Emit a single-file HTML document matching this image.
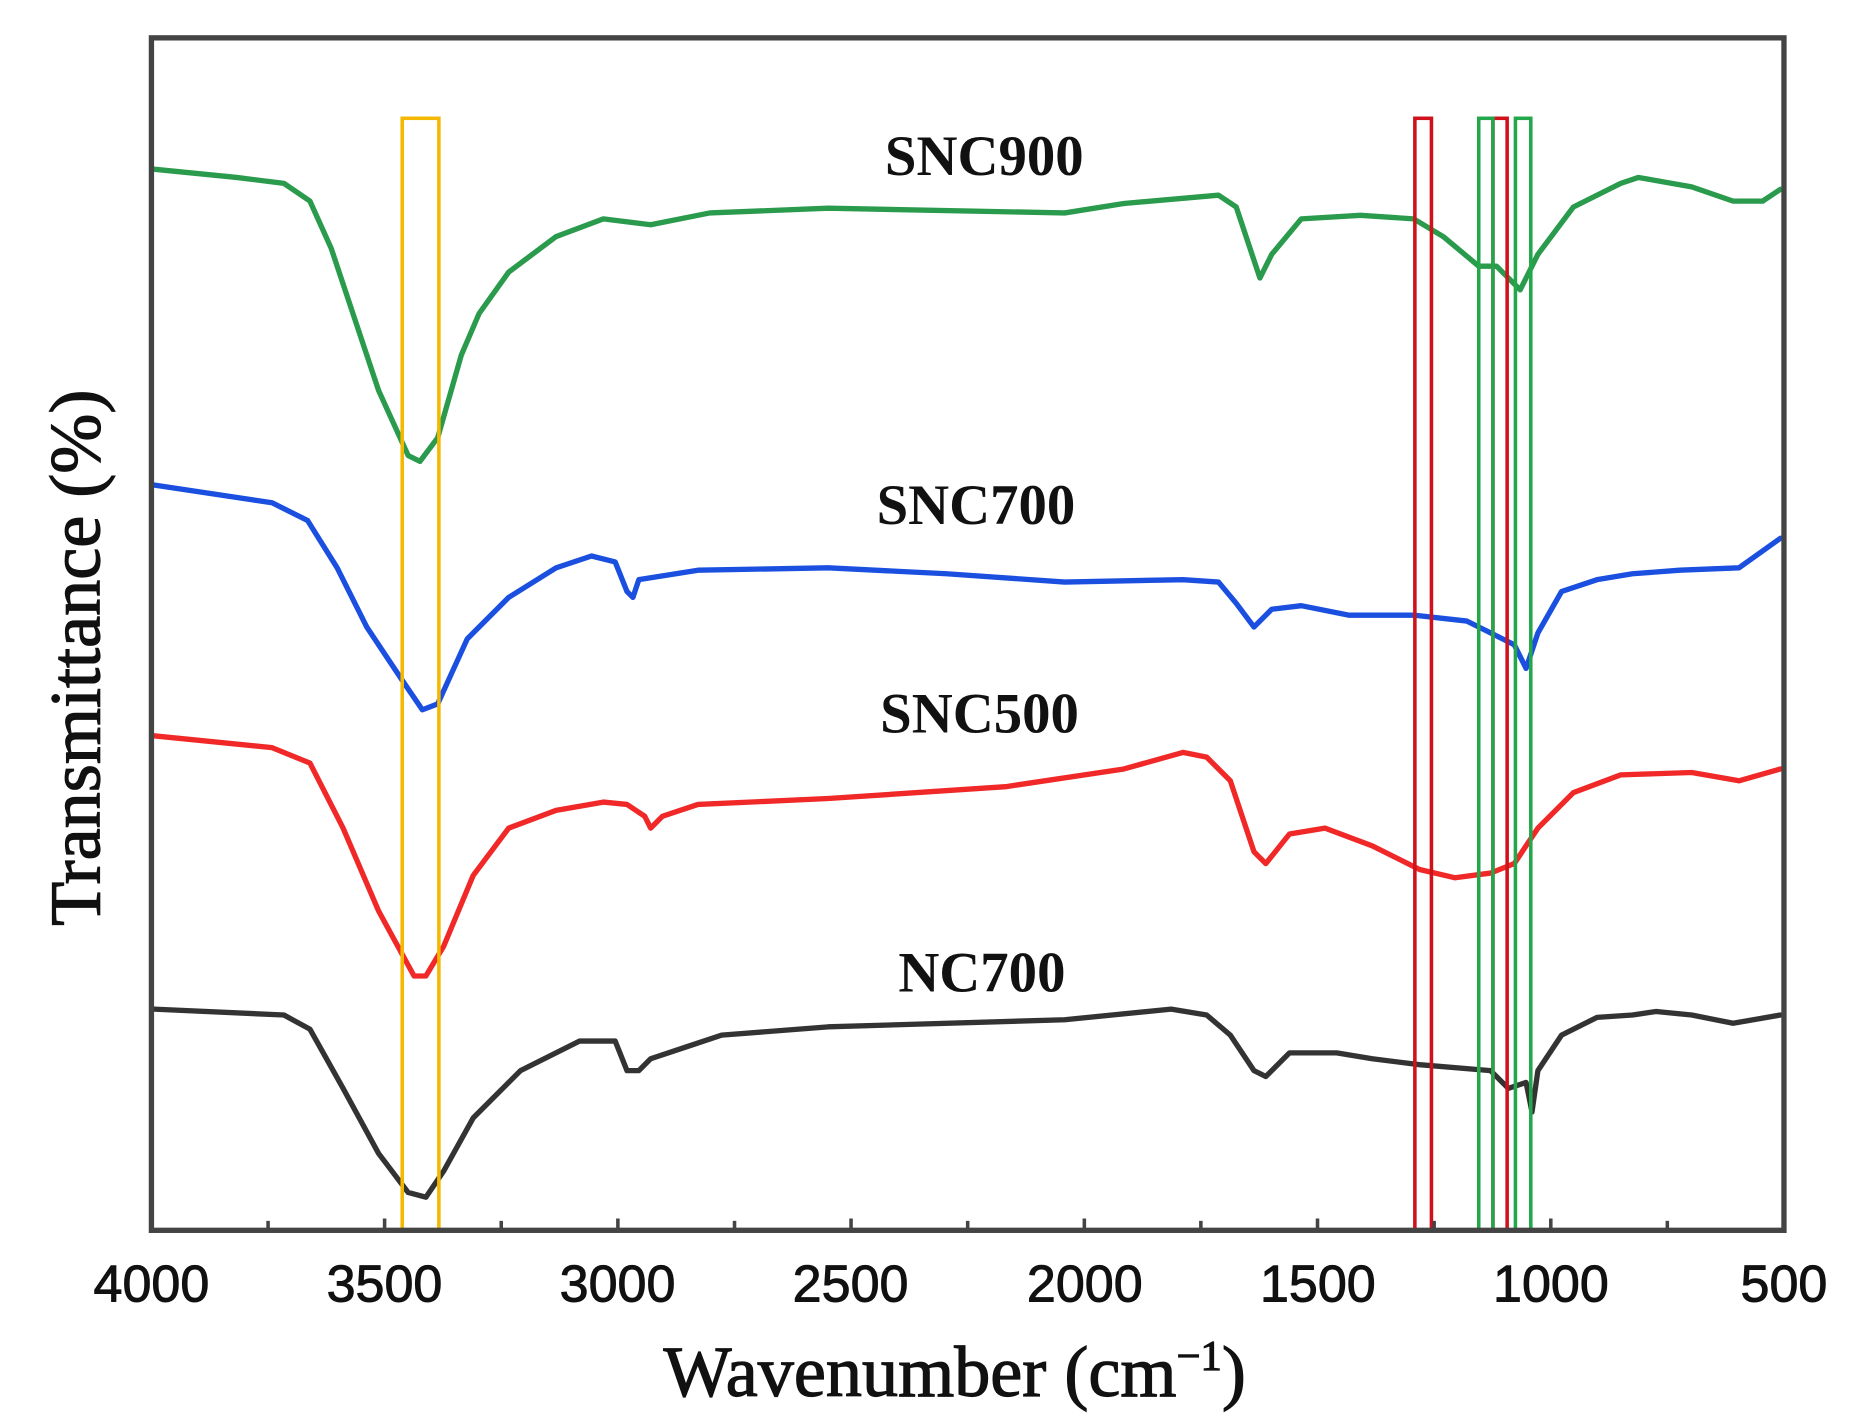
<!DOCTYPE html>
<html><head><meta charset="utf-8"><style>html,body{margin:0;padding:0;background:#fff}svg{display:block}</style></head>
<body>
<svg width="1853" height="1428" viewBox="0 0 1853 1428" xmlns="http://www.w3.org/2000/svg">
<g transform="scale(1.183)">
<g fill="none" stroke-width="4.5" stroke-linejoin="round" stroke-linecap="round">
<polyline stroke="#2a9a4c" points="130,143 200,150 240,155 262,170 280,210 300,270 320,330 345,385 355,390 370,370 390,300 405,265 430,230 470,200 510,185 550,190 600,180 700,176 900,180 950,172 1030,165 1045,175 1060,220 1065,235 1075,215 1100,185 1150,182 1195,185 1220,200 1250,225 1265,225 1280,240 1285,245 1300,215 1330,175 1370,155 1385,150 1430,158 1465,170 1490,170 1505,160"/>
<polyline stroke="#1a4fe0" points="130,410 230,425 260,440 285,480 310,530 340,575 357,600 370,595 395,540 430,505 470,480 500,470 520,475 530,500 535,505 540,490 590,482 700,480 800,485 900,492 1000,490 1030,492 1045,510 1060,530 1075,515 1100,512 1140,520 1195,520 1240,525 1260,535 1280,545 1290,565 1300,535 1320,500 1350,490 1380,485 1420,482 1470,480 1505,455"/>
<polyline stroke="#f02828" points="130,622 230,632 262,645 290,700 320,770 350,825 360,825 375,800 400,740 430,700 470,685 510,678 530,680 545,690 550,700 560,690 590,680 700,675 850,665 950,650 1000,636 1020,640 1040,660 1060,720 1070,730 1090,705 1120,700 1160,715 1200,735 1230,742 1260,738 1280,730 1300,700 1330,670 1370,655 1430,653 1470,660 1505,650"/>
<polyline stroke="#333" points="130,853 240,858 262,870 290,920 320,975 345,1008 360,1012 375,990 400,945 440,905 490,880 520,880 530,905 540,905 550,895 580,885 610,875 700,868 900,862 990,853 1020,858 1040,875 1060,905 1070,910 1090,890 1130,890 1160,895 1200,900 1260,905 1275,920 1290,915 1295,940 1300,905 1320,875 1350,860 1380,858 1400,855 1430,858 1465,865 1505,858"/>
</g>
<g fill="none" stroke-width="3">
<rect x="340" y="100" width="31" height="940" stroke="#f5b800"/>
<rect x="1196" y="100" width="14" height="940" stroke="#d0101a"/>
<rect x="1262" y="100" width="12" height="940" stroke="#d0101a"/>
<rect x="1250" y="100" width="12" height="940" stroke="#22a84a"/>
<rect x="1281" y="100" width="13" height="940" stroke="#22a84a"/>
</g>
<rect x="128" y="32" width="1380" height="1008" fill="none" stroke="#444" stroke-width="4.5"/>
<g stroke="#444" stroke-width="3">
<line x1="128" y1="1040" x2="128" y2="1030"/><line x1="226.6" y1="1040" x2="226.6" y2="1032"/>
<line x1="325.1" y1="1040" x2="325.1" y2="1030"/><line x1="423.7" y1="1040" x2="423.7" y2="1032"/>
<line x1="522.3" y1="1040" x2="522.3" y2="1030"/><line x1="620.9" y1="1040" x2="620.9" y2="1032"/>
<line x1="719.4" y1="1040" x2="719.4" y2="1030"/><line x1="818" y1="1040" x2="818" y2="1032"/>
<line x1="916.6" y1="1040" x2="916.6" y2="1030"/><line x1="1015.1" y1="1040" x2="1015.1" y2="1032"/>
<line x1="1113.7" y1="1040" x2="1113.7" y2="1030"/><line x1="1212.3" y1="1040" x2="1212.3" y2="1032"/>
<line x1="1310.9" y1="1040" x2="1310.9" y2="1030"/><line x1="1409.4" y1="1040" x2="1409.4" y2="1032"/>
</g>
<g font-family="'Liberation Sans',sans-serif" font-size="44" fill="#111" text-anchor="middle" stroke="#111" stroke-width="0.8">
<text x="128" y="1100">4000</text><text x="325" y="1100">3500</text><text x="522" y="1100">3000</text>
<text x="719" y="1100">2500</text><text x="917" y="1100">2000</text><text x="1114" y="1100">1500</text>
<text x="1311" y="1100">1000</text><text x="1508" y="1100">500</text>
</g>
<g font-family="'Liberation Serif',serif" fill="#111" text-anchor="middle" font-weight="bold">
<text x="832" y="148" font-size="48">SNC900</text>
<text x="825" y="443" font-size="48">SNC700</text>
<text x="828" y="619" font-size="48">SNC500</text>
<text x="830" y="838" font-size="48">NC700</text>
</g>
<g font-family="'Liberation Serif',serif" fill="#111" text-anchor="middle" stroke="#111" stroke-width="1">
<text x="807" y="1180" font-size="61">Wavenumber (cm<tspan dy="-22" font-size="36">−1</tspan><tspan dy="22">)</tspan></text>
<text transform="translate(84,556) rotate(-90)" font-size="61">Transmittance (%)</text>
</g>
</g>
</svg>
</body></html>
